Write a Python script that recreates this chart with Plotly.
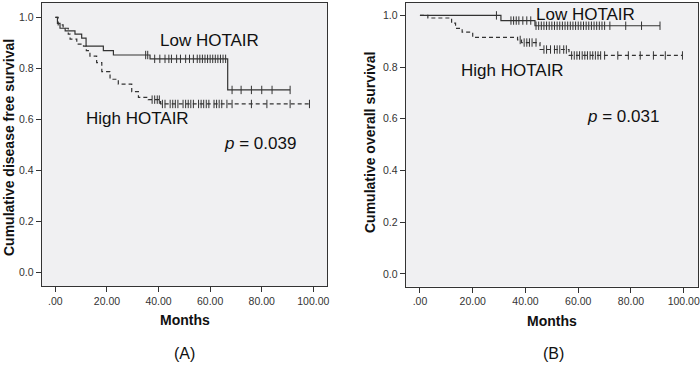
import numpy as np
import plotly.graph_objects as go

# ---------------- data ----------------
# Panel A: disease free survival
a_low_t = [0, 0.8, 1.8, 3.8, 7.6, 10.2, 11.9, 18.6, 22.5, 36.7, 66.8]
a_low_s = [1.0, 0.976, 0.957, 0.947, 0.934, 0.918, 0.887, 0.869, 0.852, 0.837, 0.715]
a_low_end = 91
a_low_cens = [35, 35.8, 38.5, 40.5, 42.5, 44, 45, 47, 48.5, 50.5, 52, 53.5, 55, 56, 57, 58,
              59, 60, 61, 62, 63, 64, 65, 66, 68.5, 72, 76, 80, 84, 91]

a_high_t = [0, 1.1, 3, 5, 5.7, 8.3, 10.9, 12, 13.4, 16, 18, 21.2, 24.4, 29.6, 32.2, 36, 40.8]
a_high_s = [1.0, 0.970, 0.957, 0.934, 0.914, 0.895, 0.887, 0.869, 0.848, 0.822, 0.787, 0.757,
            0.738, 0.708, 0.686, 0.677, 0.660]
a_high_end = 99
a_high_cens = [37.5, 38.5, 39.5, 40.3, 41.5, 42.5, 44.5, 45.5, 46.5, 47.5, 49.5, 50.5, 51.5,
               52.5, 53.5, 55.5, 56.5, 57.5, 58.5, 59.5, 61.5, 62.5, 63.5, 64.5, 66.5, 68.5,
               76, 82, 91, 98.5]

# Panel B: overall survival
b_low_t = [0, 30.7, 43.6]
b_low_s = [1.0, 0.98, 0.96]
b_low_end = 91
b_low_cens = [29, 34.5, 35.5, 36.5, 37.5, 39, 40.5, 42, 44, 45, 46, 47, 48, 49, 50, 51, 52, 53,
              54, 55, 56, 57, 58, 59, 60, 61, 62, 63, 64, 65, 66, 67, 68, 69, 70, 72, 78, 84, 91]

b_high_t = [0, 3, 12, 13.5, 16, 20, 37, 38.5, 45.5, 56.5]
b_high_s = [1.0, 0.99, 0.97, 0.95, 0.935, 0.915, 0.905, 0.895, 0.868, 0.845]
b_high_end = 99.5
b_high_cens = [38, 39.5, 40.5, 41.5, 42.5, 44, 47, 48, 49.5, 51, 52, 53, 54.5, 55.5, 57.5, 58.5,
               59.5, 60.5, 61.5, 62.5, 63.5, 64.5, 65.5, 66.5, 67.5, 68.5, 70, 75, 79, 83.5,
               88.5, 93, 99.5]

x_tickvals = [0, 20, 40, 60, 80, 100]
x_ticktext = [".00", "20.00", "40.00", "60.00", "80.00", "100.00"]
y_tickvals = [0, 0.2, 0.4, 0.6, 0.8, 1.0]
y_ticktext = ["0.0", "0.2", "0.4", "0.6", "0.8", "1.0"]

W, H = 700, 377
LINE = "#333333"
FONT = "Arial, Liberation Sans, sans-serif"
TICKFONT = "Liberation Sans Narrow, Arial Narrow, Arial, Liberation Sans, sans-serif"


def px(x):
    return x / W


def py(y):
    return 1 - y / H


def step_at(times, surv, t):
    idx = np.searchsorted(np.array(times), np.array(t), side="right") - 1
    return np.array(surv)[idx]


fig = go.Figure()


def add_curve(times, surv, end, cens, dash, xa, ya):
    fig.add_trace(go.Scatter(
        x=list(times) + [end], y=list(surv) + [surv[-1]],
        mode="lines", line=dict(color=LINE, width=1.2, dash=dash, shape="hv"),
        xaxis=xa, yaxis=ya, showlegend=False, hoverinfo="skip"))
    fig.add_trace(go.Scatter(
        x=cens, y=step_at(times, surv, cens),
        mode="markers", marker=dict(symbol="line-ns-open", size=6, color=LINE,
                                    line=dict(color=LINE, width=1)),
        xaxis=xa, yaxis=ya, showlegend=False, hoverinfo="skip"))


add_curve(a_low_t, a_low_s, a_low_end, a_low_cens, "solid", "x", "y")
add_curve(a_high_t, a_high_s, a_high_end, a_high_cens, "4px,3px", "x", "y")
add_curve(b_low_t, b_low_s, b_low_end, b_low_cens, "solid", "x2", "y2")
add_curve(b_high_t, b_high_s, b_high_end, b_high_cens, "4px,3px", "x2", "y2")

axis_common = dict(showline=True, mirror=True, linecolor="#333", linewidth=1,
                   showgrid=False, zeroline=False, ticks="outside", ticklen=5,
                   automargin=False,
                   tickcolor="#333", tickfont=dict(family=TICKFONT, size=10.5, color="#333"))

fig.update_layout(
    width=W, height=H,
    margin=dict(l=0, r=0, t=0, b=0),
    paper_bgcolor="white",
    plot_bgcolor="#f0f0f2",
    xaxis=dict(domain=[px(41.7), px(327)], range=[-5.3, 105.3], anchor="y",
               tickvals=x_tickvals, ticktext=x_ticktext, **axis_common),
    yaxis=dict(domain=[py(286), py(3)], range=[-0.054, 1.056], anchor="x",
               tickvals=y_tickvals, ticktext=y_ticktext, **axis_common),
    xaxis2=dict(domain=[px(405.7), px(698)], range=[-5.4, 105.4], anchor="y2",
                tickvals=x_tickvals, ticktext=x_ticktext, **axis_common),
    yaxis2=dict(domain=[py(286.5), py(3)], range=[-0.049, 1.048], anchor="x2",
                tickvals=y_tickvals, ticktext=y_ticktext, **axis_common),
)

ann = []


def text(x, y, s, size, bold=False, angle=0):
    ann.append(dict(x=px(x), y=py(y), xref="paper", yref="paper",
                    text=("<b>" + s + "</b>") if bold else s,
                    showarrow=False, xanchor="center", yanchor="middle",
                    textangle=angle,
                    font=dict(family=FONT, size=size, color="#111")))


text(209, 40, "Low HOTAIR", 17)
text(137, 118, "High HOTAIR", 17)
text(260, 143, "<i>p</i> = 0.039", 17)
text(585, 14, "Low HOTAIR", 17)
text(512, 70, "High HOTAIR", 17)
text(623, 117, "<i>p</i> = 0.031", 17)

text(9, 148, "Cumulative disease free survival", 14, bold=True, angle=-90)
text(370, 143, "Cumulative overall survival", 14, bold=True, angle=-90)
text(185, 320, "Months", 14, bold=True)
text(552, 321, "Months", 14, bold=True)
text(184, 353, "(A)", 16)
text(553, 353, "(B)", 16)

fig.update_layout(annotations=ann)
fig.write_html("out.html",
               config={"displayModeBar": False},
               post_script="document.body.style.margin='0';"
                           "document.body.style.overflow='hidden';")
